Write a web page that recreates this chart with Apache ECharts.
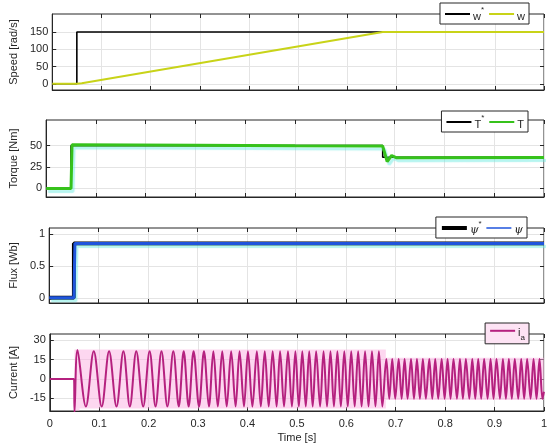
<!DOCTYPE html>
<html>
<head>
<meta charset="utf-8">
<script src="https://cdn.jsdelivr.net/npm/echarts@6/dist/echarts.min.js"></script>
<style>
  html, body { margin: 0; padding: 0; background: #fff; }
  #chart { width: 550px; height: 447px; }
</style>
</head>
<body>
<div id="chart"></div>
<script>
// speed [rad/s]
const wRefTime = [0, 0.05, 0.05, 1]
const wRefValue = [0, 0, 150, 150]
const wTime = [0, 0.05, 0.06, 0.672, 1]
const wValue = [0, 0, 1.5, 150, 150]

// torque [Nm]
const tRefTime = [0, 0.05, 0.05, 0.676, 0.676, 1]
const tRefValue = [0, 0, 50, 50, 36.5, 36.5]
const torqueTime = [0, 0.05, 0.052, 0.3, 0.5, 0.676, 0.685, 0.694, 0.703, 1]
const torqueValue = [0, 0, 51, 50.5, 49.8, 49.5, 31.5, 38.5, 36, 36.3]

// flux [Wb]
const psiRefTime = [0, 0.05, 0.05, 1]
const psiRefValue = [0, 0, 0.85, 0.85]
const psiTime = [0, 0.05, 0.052, 1]
const psiValue = [0, 0, 0.85, 0.85]

// phase current [A], peaks and troughs
const iaTime = [
  0, 0.049, 0.050,
  0.056, 0.073, 0.089, 0.105, 0.120, 0.135, 0.149, 0.162, 0.175, 0.189,
  0.202, 0.214, 0.226, 0.238, 0.250, 0.261, 0.271, 0.281, 0.291, 0.302,
  0.312, 0.322, 0.331, 0.340, 0.349, 0.358, 0.367, 0.376, 0.384, 0.393,
  0.401, 0.410, 0.419, 0.427, 0.435, 0.443, 0.451, 0.459, 0.466, 0.474,
  0.482, 0.490, 0.497, 0.504, 0.511, 0.518, 0.525, 0.532, 0.539, 0.547,
  0.554, 0.561, 0.568, 0.575, 0.582, 0.589, 0.596, 0.603, 0.610, 0.617,
  0.624, 0.631, 0.638, 0.645, 0.652, 0.659, 0.666, 0.673,
  0.681, 0.687, 0.693, 0.699, 0.706, 0.712, 0.718, 0.724, 0.731, 0.737,
  0.743, 0.749, 0.755, 0.761, 0.768, 0.774, 0.780, 0.786, 0.793, 0.799,
  0.805, 0.811, 0.817, 0.824, 0.830, 0.836, 0.842, 0.849, 0.855, 0.861,
  0.867, 0.873, 0.879, 0.886, 0.892, 0.898, 0.904, 0.911, 0.917, 0.923,
  0.929, 0.935, 0.941, 0.948, 0.954, 0.960, 0.966, 0.973, 0.979, 0.985,
  0.991, 0.997, 1
]
const iaValue = [
  0, 0, -26,
  22.5, -21.5, 21.5, -21.5, 21.5, -21.5, 21.5, -21.5, 21.5, -21.5,
  21.5, -21.5, 21.5, -21.5, 21.5, -21.5, 21.5, -21.5, 21.5, -21.5,
  21.5, -21.5, 21.5, -21.5, 21.5, -21.5, 21.5, -21.5, 21.5, -21.5,
  21.5, -21.5, 21.5, -21.5, 21.5, -21.5, 21.5, -21.5, 21.5, -21.5,
  21.5, -21.5, 21.5, -21.5, 21.5, -21.5, 21.5, -21.5, 21.5, -21.5,
  21.5, -21.5, 21.5, -21.5, 21.5, -21.5, 21.5, -21.5, 21.5, -21.5,
  21.5, -21.5, 21.5, -21.5, 21.5, -21.5, 21.5, -21.5,
  15.5, -15.5, 15.5, -15.5, 15.5, -15.5, 15.5, -15.5, 15.5, -15.5,
  15.5, -15.5, 15.5, -15.5, 15.5, -15.5, 15.5, -15.5, 15.5, -15.5,
  15.5, -15.5, 15.5, -15.5, 15.5, -15.5, 15.5, -15.5, 15.5, -15.5,
  15.5, -15.5, 15.5, -15.5, 15.5, -15.5, 15.5, -15.5, 15.5, -15.5,
  15.5, -15.5, 15.5, -15.5, 15.5, -15.5, 15.5, -15.5, 15.5, -15.5,
  15.5, -15.5, -10
]
// light pink envelope behind i_a: [t0, t1, low, high]
const iaBand = [
  [0.05, 0.68, -23, 23],
  [0.05, 0.06, -26, -23],
  [0.68, 1, -16.5, 16.5]
]

// axis ranges and ticks
const yRanges = [[-18, 202], [-10, 80], [-0.08, 1.09], [-25, 35]]
const yTicks = [[0, 50, 100, 150], [0, 25, 50], [0, 0.5, 1], [-15, 0, 15, 30]]
const yNames = ['Speed [rad/s]', 'Torque [Nm]', 'Flux [Wb]', 'Current [A]']

const font = 'Liberation Sans, Arial, sans-serif'
const ink = '#262626'
const gridColor = '#e4e4e4'

function zip (t, v) {
  return t.map((x, i) => [x, v[i]])
}

let grids = [
  {top: 14, height: 76},
  {top: 120, height: 77},
  {top: 228, height: 75},
  {top: 334, height: 77}
].map(g => Object.assign({left: 40, right: 6, show: true, borderColor: ink, borderWidth: 1, backgroundColor: '#fff'}, g))

let xAxes = []
let yAxes = []
for (let i = 0; i < 4; i++) {
  let last = i === 3
  xAxes.push({
    type: 'value', gridIndex: i, min: 0, max: 1, interval: 0.1,
    axisLine: {show: true, onZero: false, lineStyle: {color: ink}},
    axisTick: {inside: true, length: 4, lineStyle: {color: ink}},
    axisLabel: {
      show: last, color: ink, fontSize: 11, fontFamily: font, margin: 7,
      formatter: v => String(Math.round(v * 10) / 10)
    },
    splitLine: {show: true, lineStyle: {color: gridColor}},
    name: last ? 'Time [s]' : '', nameLocation: 'middle', nameGap: 21,
    nameTextStyle: {color: ink, fontSize: 11, fontFamily: font}
  })
  xAxes.push({
    type: 'value', gridIndex: i, position: 'top', min: 0, max: 1, interval: 0.1,
    axisLine: {show: false, onZero: false},
    axisTick: {inside: true, length: 4, lineStyle: {color: ink}},
    axisLabel: {show: false},
    splitLine: {show: false}
  })
  yAxes.push({
    type: 'value', gridIndex: i, min: yRanges[i][0], max: yRanges[i][1],
    axisLine: {show: true, onZero: false, lineStyle: {color: ink}},
    axisTick: {inside: true, length: 4, customValues: yTicks[i], lineStyle: {color: ink}},
    axisLabel: {customValues: yTicks[i], color: ink, fontSize: 11, fontFamily: font, margin: 4},
    splitLine: {show: true, lineStyle: {color: gridColor}},
    name: yNames[i], nameLocation: 'middle', nameGap: 27,
    nameTextStyle: {color: ink, fontSize: 11, fontFamily: font}
  })
  yAxes.push({
    type: 'value', gridIndex: i, position: 'right', min: yRanges[i][0], max: yRanges[i][1],
    axisLine: {show: false, onZero: false},
    axisTick: {inside: true, length: 4, customValues: yTicks[i], lineStyle: {color: ink}},
    axisLabel: {show: false},
    splitLine: {show: false}
  })
}

function line (name, panel, data, color, width, extra) {
  return Object.assign({
    name: name, type: 'line', xAxisIndex: panel * 2, yAxisIndex: panel * 2,
    data: data, symbol: 'none', showSymbol: false, animation: false,
    lineStyle: {color: color, width: width},
    itemStyle: {color: color}
  }, extra || {})
}

const glow = {shadowColor: 'rgba(110, 235, 225, 0.5)', shadowOffsetY: 3, shadowOffsetX: 2, shadowBlur: 1}

let series = [
  line('w*', 0, zip(wRefTime, wRefValue), '#000', 1.6),
  line('w', 0, zip(wTime, wValue), '#c8d318', 2),
  line('T*', 1, zip(tRefTime, tRefValue), '#000', 1.6),
  line('T', 1, zip(torqueTime, torqueValue), '#36c21b', 3, {lineStyle: Object.assign({color: '#36c21b', width: 3}, glow)}),
  line('ψ*', 2, zip(psiRefTime, psiRefValue), '#000', 4),
  line('ψ', 2, zip(psiTime, psiValue), '#1f55dc', 3, {lineStyle: Object.assign({color: '#1f55dc', width: 3}, glow)}),
  line('ia', 3, zip(iaTime, iaValue), '#b5217f', 2, {
    smooth: 0.35,
    markArea: {
      silent: true,
      itemStyle: {color: 'rgba(252, 175, 226, 0.5)'},
      data: iaBand.map(b => [{xAxis: b[0], yAxis: b[2]}, {xAxis: b[1], yAxis: b[3]}])
    }
  })
]

const legendRich = {
  a: {fontSize: 11, fontFamily: font, color: ink, lineHeight: 16, verticalAlign: 'bottom'},
  ai: {fontSize: 11, fontFamily: 'DejaVu Serif', fontStyle: 'italic', color: ink, lineHeight: 16, verticalAlign: 'bottom'},
  s: {fontSize: 8, fontFamily: font, color: ink, lineHeight: 16, verticalAlign: 'top'},
  b: {fontSize: 8, fontFamily: font, color: ink, lineHeight: 16, verticalAlign: 'bottom', padding: [0, 0, -3, 0]}
}
const legendText = {
  'w*': '{a|w}{s|*}',
  'w': '{a|w}',
  'T*': '{a|T}{s|*}',
  'T': '{a|T}',
  'ψ*': '{ai|ψ}{s|*}',
  'ψ': '{ai|ψ}',
  'ia': '{a|i}{b|a}'
}

function legend (top, right, names, bg) {
  return {
    top: top, right: right, orient: 'horizontal',
    data: names,
    backgroundColor: bg || '#fff', borderColor: ink, borderWidth: 1, borderRadius: 0,
    padding: [3, 4, 2, 4], itemGap: 4, itemWidth: 25, itemHeight: 12,
    itemStyle: {opacity: 0},
    lineStyle: {width: 'inherit'},
    textStyle: {rich: legendRich, padding: [0, 0, 0, -2]},
    formatter: name => legendText[name],
    selectedMode: false
  }
}

let legends = [
  legend(3, 21, [{name: 'w*', lineStyle: {width: 2}}, 'w']),
  legend(111, 22, [{name: 'T*', lineStyle: {width: 2}}, {name: 'T', lineStyle: {width: 2}}]),
  legend(217, 23, [{name: 'ψ*', lineStyle: {width: 4}}, {name: 'ψ', lineStyle: {width: 1.5}}]),
  legend(323, 21, ['ia'], '#fde3f4')
]

let chart = echarts.init(document.getElementById('chart'), null, {renderer: 'canvas'})
chart.setOption({
  backgroundColor: '#fff',
  animation: false,
  textStyle: {fontFamily: font},
  grid: grids,
  xAxis: xAxes,
  yAxis: yAxes,
  legend: legends,
  series: series
})
</script>
</body>
</html>
